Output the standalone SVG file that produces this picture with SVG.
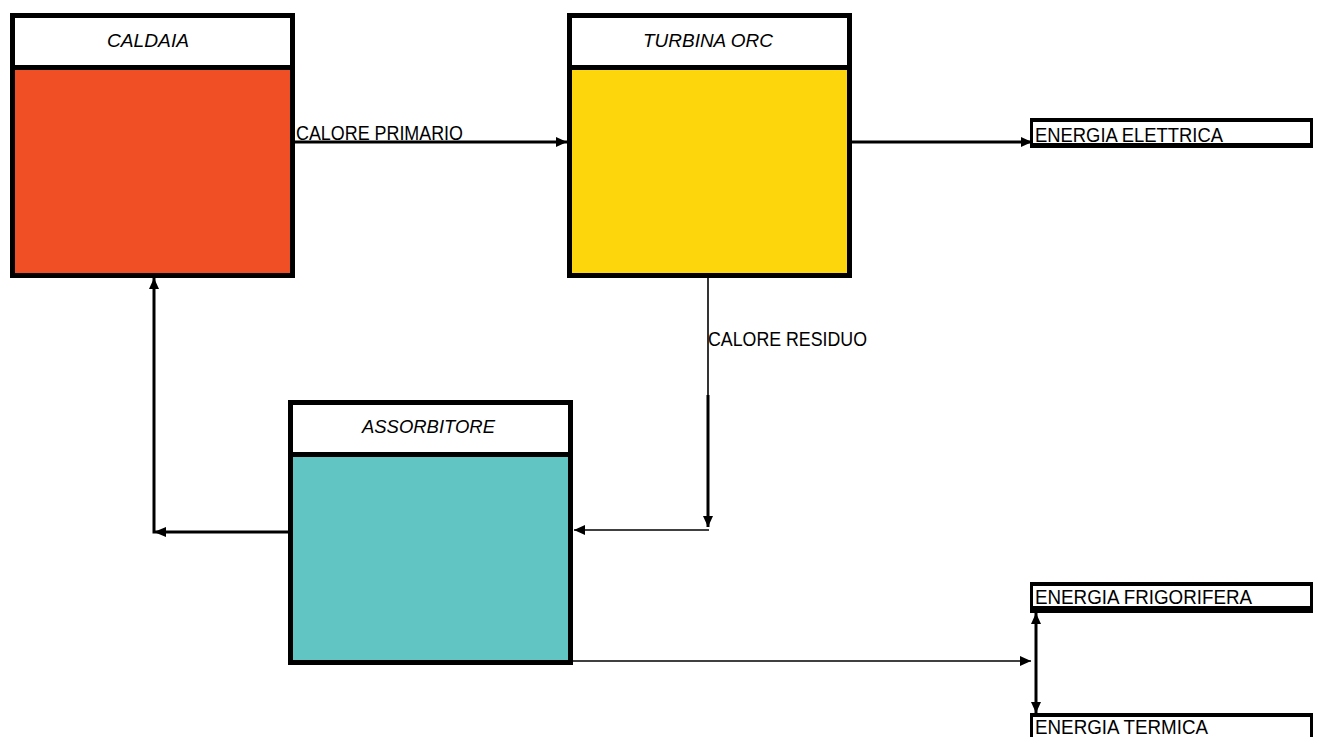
<svg xmlns="http://www.w3.org/2000/svg" width="1317" height="737" viewBox="0 0 1317 737">
  <style>
    .frame { stroke: #000; stroke-width: 5; }
    .head { fill: #fff; }
    .title { font-family: "Liberation Sans", Arial, sans-serif; font-style: italic; font-size: 19px; fill: #000; }
    .lbl { font-family: "Liberation Sans", Arial, sans-serif; font-size: 20px; fill: #000; }
    .big { font-size: 21px; }
    .wire { fill: none; stroke: #000; stroke-width: 3; }
    .thin { fill: none; stroke: #000; stroke-width: 1.6; }
  </style>
  <defs>
    <marker id="arrow" markerUnits="userSpaceOnUse" markerWidth="12" markerHeight="10" refX="11" refY="5" orient="auto">
      <path d="M0,0 L11,5 L0,10 z" fill="#000"/>
    </marker>
    <marker id="arrowStart" markerUnits="userSpaceOnUse" markerWidth="12" markerHeight="10" refX="0" refY="5" orient="auto">
      <path d="M11,0 L0,5 L11,10 z" fill="#000"/>
    </marker>
  </defs>
  <rect width="1317" height="737" fill="#fff"/>

  <!-- connectors -->
  <g id="connectors">
    <line class="wire" x1="295" y1="142" x2="567" y2="142" marker-end="url(#arrow)"/>
    <line class="wire" x1="852" y1="142" x2="1032" y2="142" marker-end="url(#arrow)"/>
    <line class="thin" x1="708" y1="278" x2="708" y2="396"/>
    <line class="wire" x1="708" y1="395" x2="708" y2="527" marker-end="url(#arrow)"/>
    <line class="thin" x1="709" y1="530" x2="574" y2="530" marker-end="url(#arrow)"/>
    <polyline class="wire" points="288,532 154,532 154,278" marker-end="url(#arrow)"/>
    <path d="M154,532 L166,527 L166,537 z" fill="#000"/>
    <line class="thin" x1="573" y1="661" x2="1031" y2="661" marker-end="url(#arrow)"/>
    <line class="wire" x1="1036" y1="613" x2="1036" y2="713" marker-start="url(#arrowStart)" marker-end="url(#arrow)"/>
    <text class="lbl" x="296" y="140" textLength="167" lengthAdjust="spacingAndGlyphs">CALORE PRIMARIO</text>
    <text class="lbl big" x="708" y="346" textLength="159" lengthAdjust="spacingAndGlyphs">CALORE RESIDUO</text>
  </g>

  <!-- boiler -->
  <g id="caldaia">
    <rect class="frame" x="12.5" y="15.5" width="280" height="260" fill="#F04E25"/>
    <rect class="head frame" x="12.5" y="15.5" width="280" height="52"/>
    <text class="title" x="107" y="46.5" textLength="82" lengthAdjust="spacingAndGlyphs">CALDAIA</text>
  </g>

  <!-- ORC turbine -->
  <g id="turbina">
    <rect class="frame" x="569.5" y="15.5" width="280" height="260" fill="#FDD60C"/>
    <rect class="head frame" x="569.5" y="15.5" width="280" height="52"/>
    <text class="title" x="643" y="46.5" textLength="130" lengthAdjust="spacingAndGlyphs">TURBINA  ORC</text>
  </g>

  <!-- absorber -->
  <g id="assorbitore">
    <rect class="frame" x="290.5" y="402.5" width="280" height="260" fill="#60C5C3"/>
    <rect class="head frame" x="290.5" y="402.5" width="280" height="52"/>
    <text class="title" x="362" y="433" textLength="133" lengthAdjust="spacingAndGlyphs">ASSORBITORE</text>
  </g>

  <!-- outputs -->
  <g id="energia-elettrica">
    <rect x="1030" y="118" width="283" height="30" fill="#000"/>
    <rect x="1033" y="122" width="277" height="21" fill="#fff"/>
    <text class="lbl big" x="1035" y="141.5" textLength="188" lengthAdjust="spacingAndGlyphs">ENERGIA ELETTRICA</text>
  </g>
  <g id="energia-frigorifera">
    <rect x="1030" y="582" width="283" height="31" fill="#000"/>
    <rect x="1033" y="586" width="277" height="20" fill="#fff"/>
    <text class="lbl big" x="1035" y="603.5" textLength="217" lengthAdjust="spacingAndGlyphs">ENERGIA FRIGORIFERA</text>
  </g>
  <g id="energia-termica">
    <rect x="1030" y="713" width="283" height="30" fill="#000"/>
    <rect x="1033" y="717" width="277" height="22" fill="#fff"/>
    <text class="lbl big" x="1035" y="734" textLength="173" lengthAdjust="spacingAndGlyphs">ENERGIA TERMICA</text>
  </g>
</svg>
